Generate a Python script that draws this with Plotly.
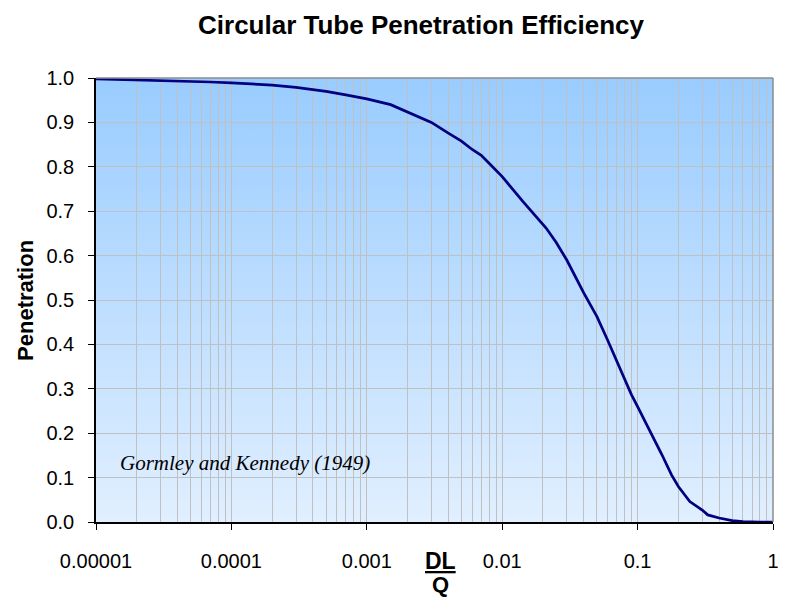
import base64
import plotly.graph_objects as go

# Data
dlq = [1e-5, 2e-5, 3e-5, 5e-5, 7e-5, 1e-4, 2e-4, 3e-4, 5e-4, 7e-4,
       1e-3, 1.5e-3, 2e-3, 3e-3, 4e-3, 5e-3, 6e-3, 7e-3, 8e-3, 9e-3,
       0.01, 0.0142, 0.0211, 0.025, 0.03, 0.04, 0.05, 0.06, 0.07, 0.08,
       0.09, 0.1, 0.127, 0.151, 0.178, 0.2, 0.243, 0.3, 0.33, 0.4,
       0.5, 0.6, 0.8, 1.0]
penetration = [0.998, 0.996, 0.994, 0.992, 0.991, 0.989, 0.984, 0.979, 0.970, 0.962,
               0.953, 0.940, 0.924, 0.900, 0.876, 0.858, 0.839, 0.826, 0.808, 0.792,
               0.778, 0.722, 0.662, 0.630, 0.590, 0.516, 0.463, 0.410, 0.362, 0.320,
               0.287, 0.260, 0.198, 0.152, 0.106, 0.080, 0.046, 0.027, 0.016, 0.009,
               0.003, 0.001, 0.000, 0.000]

x_tick_vals = [1e-5, 1e-4, 1e-3, 1e-2, 1e-1, 1]
x_tick_text = ["0.00001", "0.0001", "0.001", "0.01", "0.1", "1"]
minor_vals = [m * 10 ** e for e in range(-5, 0) for m in range(2, 10)]

title_text = "Circular Tube Penetration Efficiency"
y_title = "Penetration"
note_text = "Gormley and Kennedy (1949)"

svg = ('<svg xmlns="http://www.w3.org/2000/svg" width="100" height="100" '
       'preserveAspectRatio="none"><defs><linearGradient id="g" x1="0" y1="0" '
       'x2="0" y2="1"><stop offset="0" stop-color="#99CCFF"/>'
       '<stop offset="1" stop-color="#E1EFFF"/></linearGradient></defs>'
       '<rect width="100" height="100" fill="url(#g)"/></svg>')
bg_uri = "data:image/svg+xml;base64," + base64.b64encode(svg.encode()).decode()

fig = go.Figure()
fig.add_trace(go.Scatter(x=dlq, y=penetration, mode="lines",
                         line=dict(color="#000080", width=2.75),
                         showlegend=False, hoverinfo="x+y"))

font_family = "Liberation Sans, Arial, sans-serif"

# The page body adds an 8px offset, so the figure is sized/margined to compensate
W, H = 779, 592
fig.update_layout(
    width=W, height=H,
    margin=dict(l=88, r=8, t=70, b=78),
    paper_bgcolor="white",
    plot_bgcolor="rgba(0,0,0,0)",
    font=dict(family=font_family, color="black", size=20),
    title=dict(text="<b>" + title_text + "</b>", x=413 / W, xanchor="center",
               y=1 - 17 / H, yanchor="middle",
               font=dict(family=font_family, size=26, color="black")),
    images=[dict(source=bg_uri, xref="paper", yref="paper", x=0, y=1,
                 sizex=1, sizey=1, sizing="stretch", layer="below", xanchor="left", yanchor="top")],
    xaxis=dict(type="log", range=[-5, 0], tickvals=x_tick_vals, ticktext=x_tick_text,
               showgrid=True, gridcolor="#C0C0C0", gridwidth=1,
               minor=dict(tickvals=minor_vals, showgrid=True, gridcolor="#C0C0C0", gridwidth=1, ticks=""),
               showline=True, linecolor="black", linewidth=1.5,
               ticks="outside", ticklen=6, tickcolor="black", tickwidth=1,
               ticklabelstandoff=14, zeroline=False,
               tickfont=dict(size=20, family=font_family)),
    yaxis=dict(range=[0, 1], tick0=0, dtick=0.1, tickformat=".1f",
               showgrid=True, gridcolor="#C0C0C0", gridwidth=1,
               showline=True, linecolor="black", linewidth=1.5,
               ticks="outside", ticklen=6, tickcolor="black", tickwidth=1,
               ticklabelstandoff=10, zeroline=False,
               tickfont=dict(size=20, family=font_family)),
    shapes=[
        dict(type="line", xref="paper", yref="paper", x0=0, x1=1, y0=1, y1=1,
             line=dict(color="#8C8C8C", width=1.5)),
        dict(type="line", xref="paper", yref="paper", x0=1, x1=1, y0=0, y1=1,
             line=dict(color="#8C8C8C", width=1.5)),
    ],
    annotations=[
        dict(text="<i>" + note_text + "</i>", xref="paper", yref="paper",
             x=0.2203, y=0.1335, xanchor="center", yanchor="middle", showarrow=False,
             font=dict(family="Liberation Serif, Times New Roman, serif", size=21, color="black")),
        dict(text="<b>" + y_title + "</b>", xref="paper", yref="paper",
             x=-0.105, y=0.5, xanchor="center", yanchor="middle", textangle=-90,
             showarrow=False, font=dict(family=font_family, size=22, color="black")),
        dict(text="<b><u>DL</u></b>", xref="paper", yref="paper",
             x=0.5095, y=-0.087, xanchor="center", yanchor="middle", showarrow=False,
             font=dict(family=font_family, size=23, color="black")),
        dict(text="<b>Q</b>", xref="paper", yref="paper",
             x=0.5085, y=-(591 - 514) / 444, xanchor="center", yanchor="bottom", showarrow=False,
             font=dict(family=font_family, size=22, color="black")),
    ],
)

fig.write_html("out.html")
